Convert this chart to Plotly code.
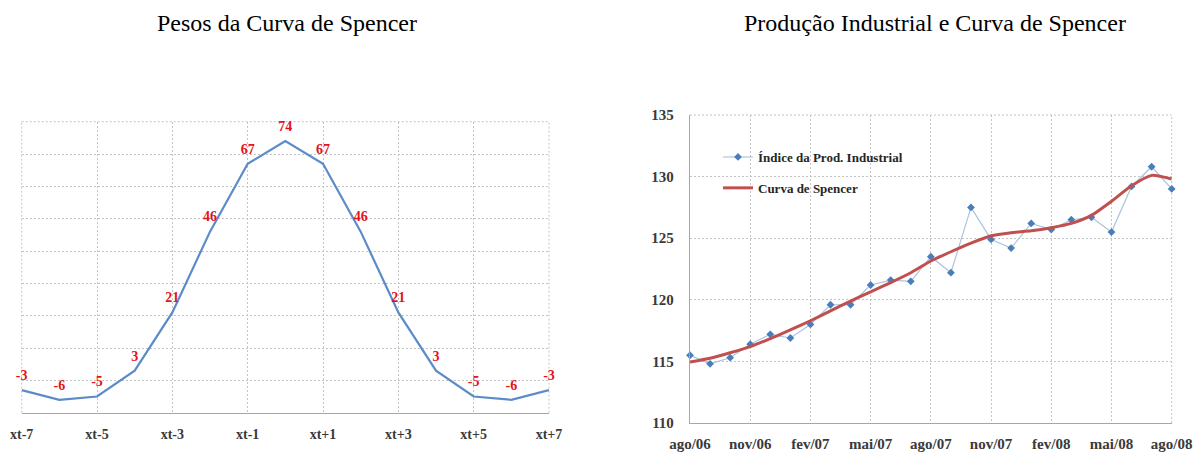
import plotly.graph_objects as go

# ---------- data ----------
peso_labels = ["xt-7", "xt-6", "xt-5", "xt-4", "xt-3", "xt-2", "xt-1", "xt",
               "xt+1", "xt+2", "xt+3", "xt+4", "xt+5", "xt+6", "xt+7"]
pesos = [-3, -6, -5, 3, 21, 46, 67, 74, 67, 46, 21, 3, -5, -6, -3]

meses = ["ago/06", "set/06", "out/06", "nov/06", "dez/06", "jan/07", "fev/07",
         "mar/07", "abr/07", "mai/07", "jun/07", "jul/07", "ago/07", "set/07",
         "out/07", "nov/07", "dez/07", "jan/08", "fev/08", "mar/08", "abr/08",
         "mai/08", "jun/08", "jul/08", "ago/08"]
indice = [115.5, 114.8, 115.3, 116.4, 117.2, 116.9, 118.0, 119.6, 119.6, 121.2,
          121.6, 121.5, 123.5, 122.2, 127.5, 124.9, 124.2, 126.2, 125.7, 126.5,
          126.7, 125.5, 129.2, 130.8, 129.0]
spencer = [114.95, 115.25, 115.7, 116.2, 116.85, 117.55, 118.3, 119.1, 119.9,
           120.65, 121.4, 122.2, 123.15, 123.9, 124.6, 125.2, 125.45, 125.6,
           125.85, 126.2, 126.85, 128.0, 129.25, 130.1, 129.8]

W, H = 1193, 452
SERIF = "Liberation Serif, Times New Roman, serif"
GRID = "#c4c4c4"
GDASH = "2px,2px"
TICKCOL = "#3a3a3a"

def px_x(x):
    return x / W

def px_y(y):
    return 1 - y / H

fig = go.Figure()

# left chart
xl = list(range(len(pesos)))
fig.add_trace(go.Scatter(
    x=xl, y=pesos, mode="lines+markers+text", text=[str(v) for v in pesos],
    textposition="top center",
    textfont=dict(family=SERIF, size=14, color="#e3131b", weight="bold"),
    marker=dict(size=9, color="rgba(0,0,0,0)"),
    line=dict(color="#5b8bc9", width=2.2), showlegend=False,
    xaxis="x", yaxis="y", cliponaxis=False))

# right chart
xr = list(range(len(meses)))
fig.add_trace(go.Scatter(
    x=xr, y=indice, mode="lines+markers", name="Índice da Prod. Industrial",
    line=dict(color="#a9c4e2", width=1.2),
    marker=dict(symbol="diamond", size=6, color="#4a7ebb"),
    xaxis="x2", yaxis="y2", legendgroup="a", cliponaxis=False))
fig.add_trace(go.Scatter(
    x=xr, y=spencer, mode="lines", name="Curva de Spencer",
    line=dict(color="#c0504d", width=3, shape="spline", smoothing=0.6),
    xaxis="x2", yaxis="y2", legendgroup="b", cliponaxis=False))

tickfont = dict(family=SERIF, size=14, color=TICKCOL, weight="bold")
tickfont2 = dict(family=SERIF, size=15, color=TICKCOL, weight="bold")

edge = dict(color=GRID, width=1, dash=GDASH)
shapes = [
    # left chart: top, left and right frame as dotted grid
    dict(type="line", xref="x domain", yref="y domain", x0=0, x1=1, y0=1, y1=1, line=edge, layer="below"),
    dict(type="line", xref="x domain", yref="y domain", x0=0, x1=0, y0=0, y1=1, line=edge, layer="below"),
    dict(type="line", xref="x domain", yref="y domain", x0=1, x1=1, y0=0, y1=1, line=edge, layer="below"),
    # right chart: top and right frame
    dict(type="line", xref="x2 domain", yref="y2 domain", x0=0, x1=1, y0=1, y1=1, line=edge, layer="below"),
    dict(type="line", xref="x2 domain", yref="y2 domain", x0=1, x1=1, y0=0, y1=1, line=edge, layer="below"),
]

fig.update_layout(
    width=W, height=H, autosize=False,
    margin=dict(l=0, r=0, t=0, b=0),
    paper_bgcolor="white", plot_bgcolor="white",
    shapes=shapes,
    xaxis=dict(domain=[px_x(21.7), px_x(549)], range=[0, 14],
               tickvals=list(range(0, 15, 2)),
               ticktext=[peso_labels[i] for i in range(0, 15, 2)],
               showgrid=True, gridcolor=GRID, griddash=GDASH, gridwidth=1,
               showline=True, linecolor="#a6a6a6", linewidth=1.3,
               ticks="outside", ticklen=8, tickcolor="rgba(0,0,0,0)",
               tickfont=tickfont, zeroline=False, automargin=False,
               fixedrange=True),
    yaxis=dict(domain=[px_y(412.7), px_y(121.7)], range=[-10, 80],
               tickvals=list(range(-10, 81, 10)), showticklabels=False,
               showgrid=True, gridcolor=GRID, griddash=GDASH, gridwidth=1,
               zeroline=False, showline=False, automargin=False,
               fixedrange=True),
    xaxis2=dict(domain=[px_x(690), px_x(1171.7)], range=[0, 24],
                tickvals=list(range(0, 25, 3)),
                ticktext=[meses[i] for i in range(0, 25, 3)],
                showgrid=True, gridcolor=GRID, griddash=GDASH, gridwidth=1,
                showline=True, linecolor="#a6a6a6", linewidth=1.3,
                ticks="outside", ticklen=7, tickcolor="rgba(0,0,0,0)",
                tickfont=tickfont2, zeroline=False, automargin=False,
                anchor="y2", fixedrange=True),
    yaxis2=dict(domain=[px_y(423), px_y(115)], range=[110, 135],
                tickvals=list(range(110, 136, 5)),
                showgrid=True, gridcolor=GRID, griddash=GDASH, gridwidth=1,
                showline=True, linecolor="#a6a6a6", linewidth=1.3,
                ticks="outside", ticklen=12, tickcolor="rgba(0,0,0,0)",
                tickfont=tickfont2, zeroline=False, automargin=False,
                anchor="x2", fixedrange=True),
    legend=dict(x=px_x(718), y=px_y(142), xanchor="left", yanchor="top",
                bgcolor="rgba(0,0,0,0)", itemwidth=30, tracegroupgap=11,
                font=dict(family=SERIF, size=13, color="#262626", weight="bold")),
    annotations=[
        dict(text="Pesos da Curva de Spencer", x=px_x(287), y=px_y(23),
             xref="paper", yref="paper", showarrow=False,
             xanchor="center", yanchor="middle",
             font=dict(family=SERIF, size=24, color="black")),
        dict(text="Produção Industrial e Curva de Spencer", x=px_x(935), y=px_y(23),
             xref="paper", yref="paper", showarrow=False,
             xanchor="center", yanchor="middle",
             font=dict(family=SERIF, size=24, color="black")),
    ],
)

fig.write_html("out.html", config={"displayModeBar": False},
               post_script="document.body.style.margin='0';document.body.style.padding='0';")
